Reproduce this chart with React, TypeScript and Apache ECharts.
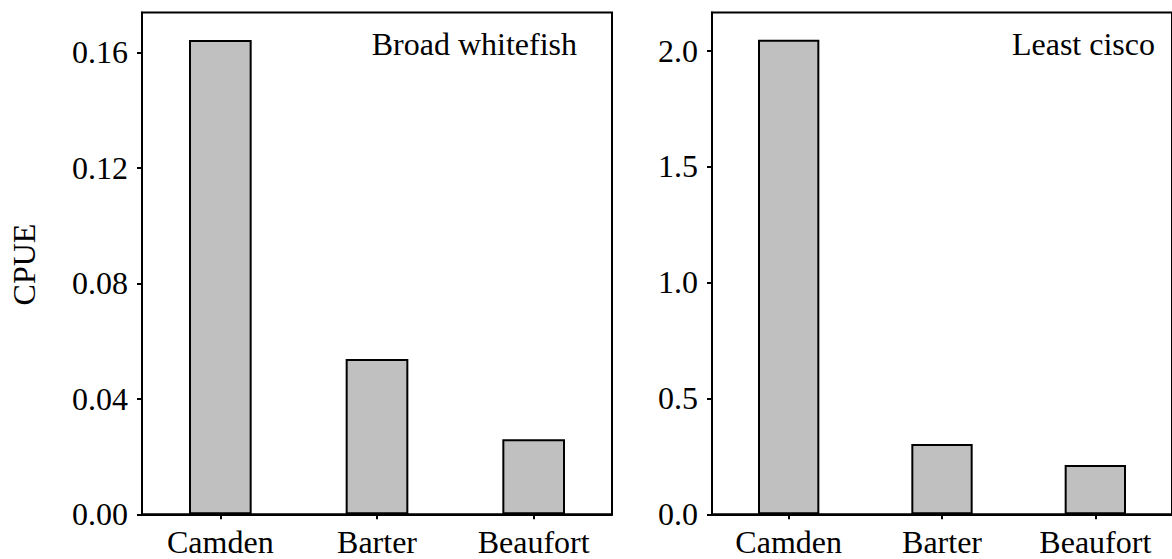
import React, { useEffect, useRef } from "react";
import * as echarts from "echarts";

const categories = ["Camden", "Barter", "Beaufort"];
const broadWhitefish = [0.1643, 0.0538, 0.026];
const leastCisco = [2.046, 0.303, 0.2125];
const leftTitle = "Broad whitefish";
const rightTitle = "Least cisco";
const yLabel = "CPUE";

const FONT = '"Liberation Serif", "Times New Roman", serif';

export default function App() {
  const ref = useRef<HTMLDivElement>(null);
  useEffect(() => {
    if (!ref.current) return;
    const chart = echarts.init(ref.current, null, { renderer: "svg" });
    const axisLine = { show: true, lineStyle: { color: "#000", width: 2 } };
    const xAxisBase = (gridIndex: number) => ({
      type: "category" as const,
      gridIndex,
      data: categories,
      axisLine,
      axisTick: { show: true, alignWithLabel: true, length: 5, lineStyle: { color: "#000", width: 2 } },
      axisLabel: { color: "#000", fontSize: 32, fontFamily: FONT, margin: 12 },
      splitLine: { show: false },
    });
    const yAxisBase = (gridIndex: number, max: number, interval: number, digits: number) => ({
      type: "value" as const,
      gridIndex,
      min: 0,
      max,
      interval,
      axisLine,
      axisTick: { show: true, length: 5, lineStyle: { color: "#000", width: 2 } },
      axisLabel: {
        color: "#000",
        fontSize: 32,
        fontFamily: FONT,
        margin: 14,
        showMaxLabel: false,
        formatter: (v: number) => v.toFixed(digits),
      },
      splitLine: { show: false },
    });
    const barSeries = (idx: number, data: number[]) => ({
      type: "bar" as const,
      xAxisIndex: idx,
      yAxisIndex: idx,
      data,
      barWidth: "40%",
      itemStyle: { color: "#c0c0c0", borderColor: "#000", borderWidth: 2 },
    });
    chart.setOption({
      animation: false,
      backgroundColor: "#fff",
      grid: [
        { left: 142, width: 470, top: 12.5, bottom: 44.7, show: true, borderColor: "#000", borderWidth: 2, backgroundColor: "transparent" },
        { left: 712, width: 468, top: 12.5, bottom: 44.7, show: true, borderColor: "#000", borderWidth: 2, backgroundColor: "transparent" },
      ],
      xAxis: [xAxisBase(0), xAxisBase(1)],
      yAxis: [yAxisBase(0, 0.1738, 0.04, 2), yAxisBase(1, 2.164, 0.5, 1)],
      series: [barSeries(0, broadWhitefish), barSeries(1, leastCisco)],
      graphic: [
        {
          type: "text",
          x: 577,
          y: 44,
          style: { text: leftTitle, fill: "#000", font: `32px ${FONT}`, align: "right", verticalAlign: "middle" },
        },
        {
          type: "text",
          x: 1155,
          y: 44,
          style: { text: rightTitle, fill: "#000", font: `32px ${FONT}`, align: "right", verticalAlign: "middle" },
        },
        {
          type: "text",
          x: 24,
          y: 264.5,
          rotation: Math.PI / 2,
          style: { text: yLabel, fill: "#000", font: `32px ${FONT}`, align: "center", verticalAlign: "middle" },
        },
      ],
    });
    return () => chart.dispose();
  }, []);
  return <div ref={ref} style={{ position: "absolute", left: 0, top: 0, width: 1172, height: 559 }} />;
}
